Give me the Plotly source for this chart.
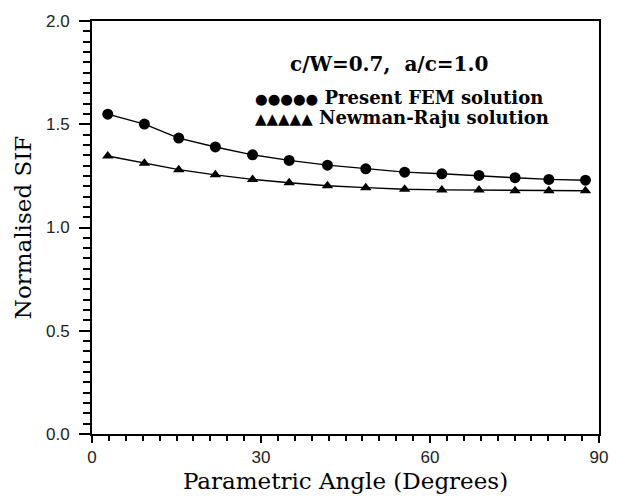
import plotly.graph_objects as go

angle = [2.8, 9.3, 15.4, 21.9, 28.5, 35.0, 41.8, 48.6, 55.5, 62.1, 68.7, 75.1, 81.1, 87.6]
fem_sif = [1.549, 1.501, 1.433, 1.390, 1.352, 1.325, 1.302, 1.284, 1.268, 1.260, 1.252, 1.241, 1.233, 1.229]
newman_raju_sif = [1.346, 1.311, 1.280, 1.255, 1.233, 1.217, 1.202, 1.193, 1.185, 1.182, 1.181, 1.178, 1.178, 1.178]

x_ticks = [0, 30, 60, 90]
y_ticks = [0.0, 0.5, 1.0, 1.5, 2.0]
y_tick_text = ["0.0", "0.5", "1.0", "1.5", "2.0"]

fig = go.Figure()
fig.add_trace(go.Scatter(
    x=angle, y=fem_sif, mode="lines+markers", name="Present FEM solution",
    line=dict(color="black", width=1.4),
    marker=dict(symbol="circle", size=11, color="black"),
    showlegend=False,
))
fig.add_trace(go.Scatter(
    x=angle, y=newman_raju_sif, mode="lines+markers", name="Newman-Raju solution",
    line=dict(color="black", width=1.4),
    marker=dict(symbol="triangle-up", size=10, color="black"),
    showlegend=False,
))

tick_font = dict(family="Liberation Sans, Arial, sans-serif", size=17, color="#222")
title_font = dict(family="DejaVu Serif, serif", size=23, color="black")

fig.update_xaxes(
    range=[0, 90], tickvals=x_ticks, ticktext=[str(v) for v in x_ticks],
    ticks="outside", ticklen=7, tickwidth=1.5, tickcolor="black",
    minor=dict(dtick=3, ticks="outside", ticklen=5, tickwidth=1.5, tickcolor="black"),
    showline=True, linewidth=2, linecolor="black", mirror=True,
    showgrid=False, zeroline=False, tickfont=tick_font,
    title=dict(text="Parametric Angle (Degrees)", font=title_font, standoff=6),
)
fig.update_yaxes(
    range=[0, 2.0], tickvals=y_ticks, ticktext=y_tick_text,
    ticks="outside", ticklen=11, tickwidth=1.5, tickcolor="black",
    minor=dict(dtick=0.05, ticks="outside", ticklen=7, tickwidth=1.5, tickcolor="black"),
    showline=True, linewidth=2, linecolor="black", mirror=True,
    showgrid=False, zeroline=False, tickfont=tick_font, ticklabelstandoff=6,
    title=dict(text="Normalised SIF", font=title_font, standoff=8),
)

legend_font = dict(family="DejaVu Serif, serif", size=18, color="black", weight="bold")
fig.add_annotation(
    xref="paper", yref="paper", x=0.585, y=0.897, xanchor="center", yanchor="middle",
    text="c/W=0.7,  a/c=1.0", showarrow=False,
    font=dict(family="DejaVu Serif, serif", size=20, color="black", weight="bold"),
)
fig.add_annotation(
    xref="paper", yref="paper", x=0.318, y=0.815, xanchor="left", yanchor="middle",
    text='<span style="font-family:DejaVu Sans;font-size:14.5px">●●●●●</span> Present FEM solution',
    showarrow=False, font=legend_font,
)
fig.add_annotation(
    xref="paper", yref="paper", x=0.318, y=0.767, xanchor="left", yanchor="middle",
    text='<span style="font-family:DejaVu Sans;font-size:15px">▲▲▲▲▲</span> Newman-Raju solution',
    showarrow=False, font=legend_font,
)

fig.update_layout(
    width=620, height=502,
    margin=dict(l=92, r=20, t=14, b=62),
    paper_bgcolor="white", plot_bgcolor="white",
)

fig.write_html("out.html")
